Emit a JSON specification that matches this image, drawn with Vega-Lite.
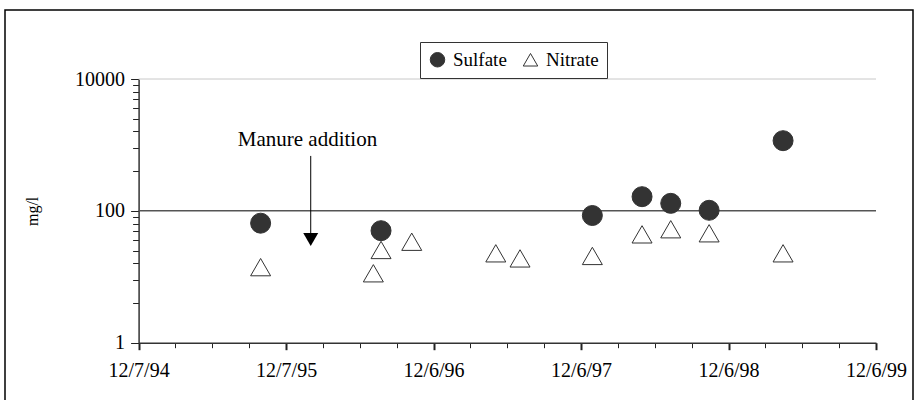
{
  "$schema": "https://vega.github.io/schema/vega-lite/v6.json",
  "autosize": {"type": "none"},
  "width": 908,
  "height": 392,
  "padding": {"left": 5, "top": 10, "right": 4, "bottom": 0},
  "background": "white",
  "config": {
    "view": {"stroke": "#000000", "strokeWidth": 1.5},
    "font": "Liberation Serif"
  },
  "datasets": {
    "points": [
      {"date": "1995-10-05", "value": 65, "series": "Sulfate"},
      {"date": "1996-07-29", "value": 50, "series": "Sulfate"},
      {"date": "1998-01-03", "value": 85, "series": "Sulfate"},
      {"date": "1998-05-06", "value": 164, "series": "Sulfate"},
      {"date": "1998-07-16", "value": 130, "series": "Sulfate"},
      {"date": "1998-10-19", "value": 102, "series": "Sulfate"},
      {"date": "1999-04-20", "value": 1160, "series": "Sulfate"},
      {"date": "1995-10-05", "value": 14, "series": "Nitrate"},
      {"date": "1996-07-10", "value": 11.3, "series": "Nitrate"},
      {"date": "1996-07-29", "value": 25.5, "series": "Nitrate"},
      {"date": "1996-10-13", "value": 34, "series": "Nitrate"},
      {"date": "1997-05-09", "value": 22.7, "series": "Nitrate"},
      {"date": "1997-07-08", "value": 19, "series": "Nitrate"},
      {"date": "1998-01-03", "value": 20.7, "series": "Nitrate"},
      {"date": "1998-05-06", "value": 44, "series": "Nitrate"},
      {"date": "1998-07-16", "value": 52.6, "series": "Nitrate"},
      {"date": "1998-10-19", "value": 45.7, "series": "Nitrate"},
      {"date": "1999-04-20", "value": 22.7, "series": "Nitrate"}
    ]
  },
  "encoding": {
    "x": {
      "field": "date",
      "type": "temporal",
      "scale": {
        "type": "utc",
        "domain": [
          {"year": 1994, "month": 12, "date": 7, "utc": true},
          {"year": 1999, "month": 12, "date": 6, "utc": true}
        ],
        "range": [133.6, 871],
        "nice": false
      },
      "axis": {
        "orient": "bottom",
        "offset": -59.3,
        "title": null,
        "grid": false,
        "values": [
          {"year": 1994, "month": 12, "date": 7, "utc": true},
          {"year": 1995, "month": 3, "date": 8, "hours": 6, "utc": true},
          {"year": 1995, "month": 6, "date": 7, "hours": 12, "utc": true},
          {"year": 1995, "month": 9, "date": 6, "hours": 18, "utc": true},
          {"year": 1995, "month": 12, "date": 7, "utc": true},
          {"year": 1996, "month": 3, "date": 7, "hours": 6, "utc": true},
          {"year": 1996, "month": 6, "date": 6, "hours": 12, "utc": true},
          {"year": 1996, "month": 9, "date": 5, "hours": 18, "utc": true},
          {"year": 1996, "month": 12, "date": 6, "utc": true},
          {"year": 1997, "month": 3, "date": 7, "hours": 6, "utc": true},
          {"year": 1997, "month": 6, "date": 6, "hours": 12, "utc": true},
          {"year": 1997, "month": 9, "date": 5, "hours": 18, "utc": true},
          {"year": 1997, "month": 12, "date": 6, "utc": true},
          {"year": 1998, "month": 3, "date": 7, "hours": 6, "utc": true},
          {"year": 1998, "month": 6, "date": 6, "hours": 12, "utc": true},
          {"year": 1998, "month": 9, "date": 5, "hours": 18, "utc": true},
          {"year": 1998, "month": 12, "date": 6, "utc": true},
          {"year": 1999, "month": 3, "date": 7, "hours": 6, "utc": true},
          {"year": 1999, "month": 6, "date": 6, "hours": 12, "utc": true},
          {"year": 1999, "month": 9, "date": 5, "hours": 18, "utc": true},
          {"year": 1999, "month": 12, "date": 6, "utc": true}
        ],
        "format": "%-m/%-d/%y",
        "labelExpr": "utcmonth(datum.value) == 11 ? datum.label : ''",
        "labelOverlap": false,
        "labelFlush": false,
        "labelFont": "Liberation Serif",
        "labelFontSize": 20,
        "labelColor": "#000000",
        "labelPadding": 11,
        "tickSize": {"condition": {"test": "utcmonth(datum.value) == 11", "value": 7}, "value": 5},
        "tickWidth": {"condition": {"test": "utcmonth(datum.value) == 11", "value": 2}, "value": 1},
        "tickColor": "#222222",
        "domainColor": "#333333",
        "domainWidth": 1.5
      }
    },
    "y": {
      "field": "value",
      "type": "quantitative",
      "scale": {"type": "log", "domain": [1, 10000], "range": [332.7, 69], "nice": false, "zero": false},
      "axis": {
        "orient": "left",
        "offset": -133.6,
        "grid": false,
        "values": [1, 4, 9, 16, 25, 36, 49, 64, 81, 100, 400, 900, 1600, 2500, 3600, 4900, 6400, 8100, 10000],
        "format": "d",
        "labelExpr": "(datum.value == 1 || datum.value == 100 || datum.value == 10000) ? datum.label : ''",
        "labelOverlap": false,
        "labelFlush": false,
        "labelFont": "Liberation Serif",
        "labelFontSize": 20,
        "labelColor": "#000000",
        "labelPadding": 6,
        "tickSize": {"condition": {"test": "datum.value == 1 || datum.value == 100 || datum.value == 10000", "value": 8}, "value": 6},
        "tickColor": "#222222",
        "domainColor": "#333333",
        "domainWidth": 1.5,
        "title": "mg/l",
        "titleFont": "Liberation Serif",
        "titleFontSize": 16,
        "titleFontWeight": "normal",
        "titleColor": "#000000",
        "titlePadding": 34
      }
    }
  },
  "layer": [
    {
      "data": {"values": [{"date": "1994-12-07", "end": "1999-12-06", "value": 10000}]},
      "mark": {"type": "rule", "color": "#c8c8c8", "strokeWidth": 1},
      "encoding": {"x2": {"field": "end"}}
    },
    {
      "data": {"values": [{"date": "1994-12-07", "end": "1999-12-06", "value": 100}]},
      "mark": {"type": "rule", "color": "#555555", "strokeWidth": 1.5},
      "encoding": {"x2": {"field": "end"}}
    },
    {
      "data": {"values": [{"date": "1996-02-06", "value": 681, "value2": 46}]},
      "mark": {"type": "rule", "color": "#000000", "strokeWidth": 1},
      "encoding": {"y2": {"field": "value2"}}
    },
    {
      "data": {"values": [{"date": "1996-02-06", "value": 36.8}]},
      "mark": {"type": "point", "shape": "triangle-down", "filled": true, "color": "#000000", "size": 225, "opacity": 1}
    },
    {
      "data": {"values": [{"date": "1996-01-29", "value": 966, "label": "Manure addition"}]},
      "mark": {"type": "text", "font": "Liberation Serif", "fontSize": 21, "align": "center", "baseline": "alphabetic", "color": "#000000"},
      "encoding": {"text": {"field": "label"}}
    },
    {
      "data": {"name": "points"},
      "mark": {"type": "point", "filled": true, "stroke": "#333333", "strokeWidth": 1, "size": 400, "opacity": 1},
      "encoding": {
        "fill": {
          "field": "series",
          "type": "nominal",
          "scale": {"domain": ["Sulfate", "Nitrate"], "range": ["#333333", "#ffffff"]},
          "legend": {
            "orient": "none",
            "legendX": 415,
            "legendY": 32,
            "direction": "horizontal",
            "title": null,
            "strokeColor": "#333333",
            "fillColor": "#ffffff",
            "padding": 8,
            "labelFont": "Liberation Serif",
            "labelFontSize": 19,
            "labelColor": "#000000",
            "symbolSize": 210,
            "symbolStrokeColor": "#333333",
            "symbolStrokeWidth": 1,
            "columnPadding": 14,
            "labelOffset": 6
          }
        },
        "shape": {
          "field": "series",
          "type": "nominal",
          "scale": {"domain": ["Sulfate", "Nitrate"], "range": ["circle", "triangle-up"]}
        }
      }
    }
  ]
}
